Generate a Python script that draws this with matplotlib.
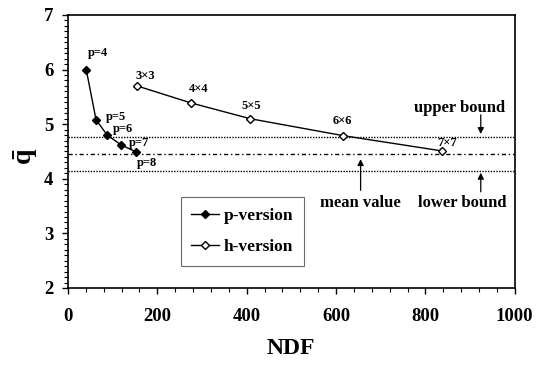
import matplotlib
matplotlib.use("Agg")
import matplotlib.pyplot as plt
from matplotlib.ticker import MultipleLocator

plt.rcParams["font.family"] = ["Liberation Serif", "DejaVu Serif"]
plt.rcParams["font.weight"] = "bold"
plt.rcParams["mathtext.fontset"] = "custom"
plt.rcParams["mathtext.rm"] = "Liberation Serif:bold"
plt.rcParams["mathtext.bf"] = "Liberation Serif:bold"

# p-version: polynomial order increased on a fixed mesh
p_ndf = [41, 63, 88, 119, 153]
p_q = [6.00, 5.08, 4.80, 4.62, 4.49]
p_labels = ["p=4", "p=5", "p=6", "p=7", "p=8"]

# h-version: mesh refinement
h_ndf = [155, 275, 408, 616, 837]
h_q = [5.70, 5.39, 5.10, 4.79, 4.51]
h_labels = ["3\u00d73", "4\u00d74", "5\u00d75", "6\u00d76", "7\u00d77"]

# reference levels
upper_bound = 4.77
mean_value = 4.46
lower_bound = 4.15

fig = plt.figure(figsize=(5.39, 3.65), dpi=100)
ax = fig.add_axes([0.126, 0.211, 0.829, 0.748])

ax.set_xlim(0, 1000)
ax.set_ylim(2, 7)

ax.axhline(upper_bound, color="black", lw=1.0, ls=(0, (1, 1)), zorder=1)
ax.axhline(lower_bound, color="black", lw=1.0, ls=(0, (1, 1)), zorder=1)
ax.axhline(mean_value, color="black", lw=1.0, ls=(0, (3, 2, 1, 2)), zorder=1)

ax.plot(p_ndf, p_q, color="black", lw=1.0, marker="D", ms=4.5,
        mfc="black", mec="black", label="p-version", zorder=3)
ax.plot(h_ndf, h_q, color="black", lw=1.0, marker="D", ms=4.5,
        mfc="white", mec="black", mew=1.0, label="h-version", zorder=3)

# point labels
p_label_pos = [(67, 6.30), (108, 5.13), (123, 4.91), (160, 4.66), (177, 4.28)]
for txt, (x, y) in zip(p_labels, p_label_pos):
    ax.text(x, y, txt, fontsize=9, fontweight="bold", ha="center", va="center")
h_label_pos = [(174, 5.88), (293, 5.64), (411, 5.33), (614, 5.05), (849, 4.66)]
for txt, (x, y) in zip(h_labels, h_label_pos):
    ax.text(x, y, txt, fontsize=9, fontweight="bold", ha="center", va="center")

arrow = dict(arrowstyle="-|>", color="black", lw=0.9, mutation_scale=9,
             shrinkA=0, shrinkB=0)
ax.text(877, 5.30, "upper bound", fontsize=12, fontweight="bold",
        ha="center", va="center")
ax.annotate("", xy=(924, upper_bound + 0.05), xytext=(924, 5.17), arrowprops=arrow)
ax.text(654, 3.56, "mean value", fontsize=12, fontweight="bold",
        ha="center", va="center")
ax.annotate("", xy=(655, mean_value - 0.10), xytext=(655, 3.79), arrowprops=arrow)
ax.text(883, 3.56, "lower bound", fontsize=12, fontweight="bold",
        ha="center", va="center")
ax.annotate("", xy=(924, lower_bound - 0.04), xytext=(924, 3.76), arrowprops=arrow)

ax.xaxis.set_major_locator(MultipleLocator(200))
ax.xaxis.set_minor_locator(MultipleLocator(40))
ax.yaxis.set_major_locator(MultipleLocator(1))
ax.yaxis.set_minor_locator(MultipleLocator(0.1))
ax.tick_params(which="major", direction="out", length=4.5, width=1.0,
               labelsize=13.5)
ax.tick_params(which="minor", direction="out", length=3, width=0.8)
ax.tick_params(axis="x", which="major", pad=10)
ax.tick_params(axis="y", which="major", pad=6)
for lab in ax.get_xticklabels() + ax.get_yticklabels():
    lab.set_fontweight("bold")

for sp in ax.spines.values():
    sp.set_linewidth(1.2)

ax.set_xlabel("NDF", fontsize=17, fontweight="bold", labelpad=9)
ax.set_ylabel(r"$\bar{\mathbf{q}}$", fontsize=20, rotation=90)
ax.yaxis.set_label_coords(-0.062, 0.48)

leg = ax.legend(loc="upper left", bbox_to_anchor=(0.252, 0.333),
                fontsize=12.5, frameon=True, fancybox=False, handlelength=1.6,
                handletextpad=0.3, labelspacing=0.9, borderpad=0.6,
                borderaxespad=0)
leg.get_frame().set_edgecolor("#444444")
leg.get_frame().set_linewidth(0.8)
for t in leg.get_texts():
    t.set_fontweight("bold")

fig.savefig("out.png", dpi=100)
